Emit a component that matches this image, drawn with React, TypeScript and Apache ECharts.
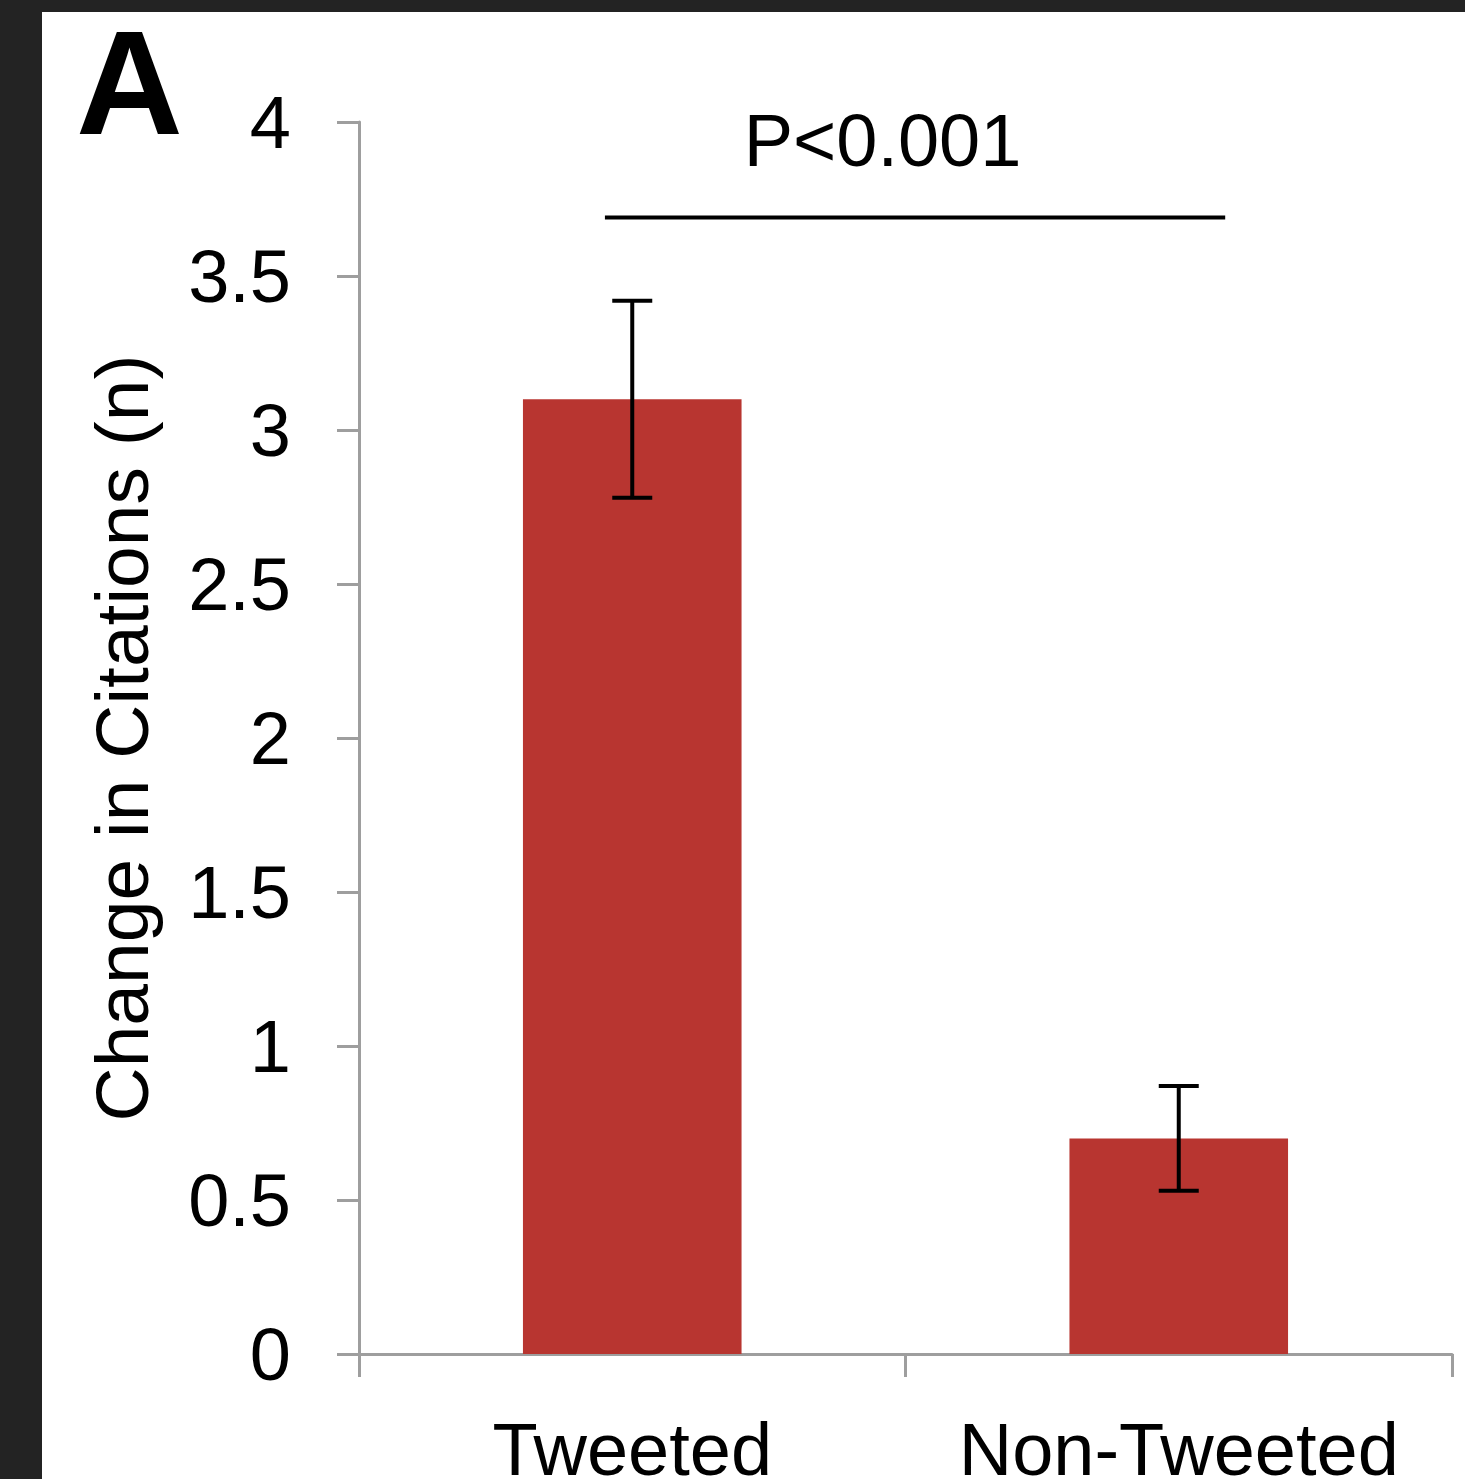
import React, { useEffect, useRef } from "react";
import * as echarts from "echarts";

// ---- data ----
const categories = ["Tweeted", "Non-Tweeted"];
const means = [3.1, 0.7];
const errLow = [2.78, 0.53];
const errHigh = [3.42, 0.87];
const yTicks = { min: 0, max: 4, interval: 0.5 };
const yAxisName = "Change in Citations (n)";
const pLabel = "P<0.001";
// significance bracket in data units: [fromCategory, toCategory, yValue, labelCategoryPos]
const sigBracket = [[-0.05, 1.085, 3.69, 0.458]];
const panelLetter = "A";

const FONT = '"Liberation Sans", Arial, sans-serif';
const BAR_COLOR = "#b83530";
const AXIS_COLOR = "#9e9e9e";

export default function App() {
  const ref = useRef<HTMLDivElement>(null);

  useEffect(() => {
    if (!ref.current) return;
    const chart = echarts.init(ref.current, undefined, { renderer: "svg" });

    const errData = categories.map((_, i) => [i, errLow[i], errHigh[i]]);

    chart.setOption({
      animation: false,
      backgroundColor: "#232323",
      textStyle: { fontFamily: FONT },
      graphic: {
        elements: [
          {
            type: "rect",
            z: -100,
            silent: true,
            shape: { x: 42, y: 12, width: 1423, height: 1467 },
            style: { fill: "#ffffff" },
          },
          {
            type: "text",
            z: 10,
            x: 76,
            y: 82,
            style: {
              text: panelLetter,
              font: `bold 148px ${FONT}`,
              fill: "#000",
              align: "left",
              verticalAlign: "middle",
            },
          },
        ],
      },
      grid: {
        left: 359,
        right: 13,
        top: 122,
        bottom: 125,
        containLabel: false,
        outerBoundsMode: "none",
      },
      xAxis: {
        type: "category",
        data: categories,
        axisLine: { show: true, lineStyle: { color: AXIS_COLOR, width: 3 } },
        axisTick: { show: true, alignWithLabel: false, length: 23, lineStyle: { color: AXIS_COLOR, width: 3 } },
        axisLabel: { fontSize: 74, color: "#000", margin: 58, fontFamily: FONT, interval: 0, hideOverlap: false },
        splitLine: { show: false },
      },
      yAxis: {
        type: "value",
        min: yTicks.min,
        max: yTicks.max,
        interval: yTicks.interval,
        name: yAxisName,
        nameLocation: "middle",
        nameGap: 200,
        nameTextStyle: { fontSize: 75, color: "#000", fontFamily: FONT },
        axisLine: { show: true, lineStyle: { color: AXIS_COLOR, width: 3 } },
        axisTick: { show: true, length: 22, lineStyle: { color: AXIS_COLOR, width: 3 } },
        axisLabel: { fontSize: 74, color: "#000", margin: 68, fontFamily: FONT, padding: [10, 0, 0, 0] },
        splitLine: { show: false },
      },
      series: [
        {
          type: "bar",
          data: means,
          barWidth: "40%",
          itemStyle: { color: BAR_COLOR },
          z: 2,
        },
        {
          type: "custom",
          data: errData,
          z: 5,
          renderItem: (params: any, api: any) => {
            const x = api.value(0);
            const lo = api.coord([x, api.value(1)]);
            const hi = api.coord([x, api.value(2)]);
            const cap = 20;
            const style = { stroke: "#000", lineWidth: 4 };
            return {
              type: "group",
              children: [
                { type: "line", shape: { x1: lo[0], y1: lo[1], x2: hi[0], y2: hi[1] }, style },
                { type: "line", shape: { x1: hi[0] - cap, y1: hi[1], x2: hi[0] + cap, y2: hi[1] }, style },
                { type: "line", shape: { x1: lo[0] - cap, y1: lo[1], x2: lo[0] + cap, y2: lo[1] }, style },
              ],
            };
          },
        },
        {
          type: "custom",
          data: sigBracket,
          z: 5,
          renderItem: (params: any, api: any) => {
            const c0 = api.coord([0, api.value(2)]);
            const c1 = api.coord([1, api.value(2)]);
            const unit = c1[0] - c0[0];
            const xFrom = c0[0] + api.value(0) * unit;
            const xTo = c0[0] + api.value(1) * unit;
            const xText = c0[0] + api.value(3) * unit;
            const y = c0[1];
            return {
              type: "group",
              children: [
                {
                  type: "line",
                  shape: { x1: xFrom, y1: y, x2: xTo, y2: y },
                  style: { stroke: "#000", lineWidth: 4 },
                },
                {
                  type: "text",
                  x: xText,
                  y: y - 40,
                  style: {
                    text: pLabel,
                    font: `74px ${FONT}`,
                    fill: "#000",
                    align: "center",
                    verticalAlign: "bottom",
                  },
                },
              ],
            };
          },
        },
      ],
    });

    return () => chart.dispose();
  }, []);

  return (
    <div
      ref={ref}
      style={{ position: "absolute", left: 0, top: 0, width: 1465, height: 1479 }}
    />
  );
}
